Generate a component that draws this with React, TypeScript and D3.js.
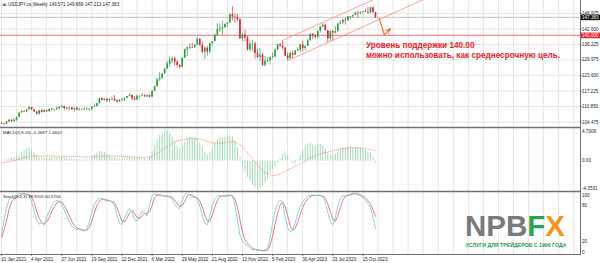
import React from 'react';
import * as d3 from 'd3';

const W = 600;
const H = 263;

// Weekly USDJPY candles, week of 10 Jan 2021 .. week of 19 Nov 2023
const firstOpen = 103.93;
const closes = [
  103.86, 103.77, 104.68, 105.38, 104.95, 105.42, 106.56, 108.36, 109.03, 108.86, 109.67, 110.62, 109.66, 108.78, 107.88, 109.29, 108.59, 109.35, 108.95, 109.85, 109.52, 109.66, 110.21, 110.74, 111.05, 110.14, 110.08, 110.55, 109.70, 110.25, 109.59, 109.79, 109.84, 109.71, 109.93, 109.94, 110.74, 111.05, 112.24, 114.21, 113.47, 113.95, 113.41, 113.89, 114.00, 113.38, 112.81, 113.44, 113.73, 114.39, 115.08,
  115.56, 114.19, 113.66, 115.26, 115.26, 115.43, 115.01, 115.56, 114.84, 117.29, 119.18, 122.04, 122.53, 124.33, 126.42, 128.48, 129.83, 130.58, 129.25, 127.87, 127.12, 130.85, 134.38, 135.00, 135.22, 135.21, 136.09, 138.56, 136.11, 133.27, 134.94, 133.43, 136.92, 137.66, 140.23, 142.58, 142.93, 143.35, 144.74, 145.30, 148.70, 147.69, 147.48, 146.62, 138.79, 140.38, 139.07, 134.30, 136.57, 136.69, 132.81, 131.11,
  132.07, 127.88, 129.59, 129.89, 131.19, 131.39, 134.15, 136.36, 135.85, 135.02, 131.73, 130.70, 132.79, 132.16, 133.77, 134.21, 136.27, 134.85, 135.70, 137.97, 140.57, 139.92, 139.38, 141.81, 143.70, 144.31, 142.09, 138.80, 141.80, 141.17, 141.79, 144.90, 145.39, 146.43, 146.20, 147.82, 147.85, 148.37, 149.36, 149.32, 149.57, 149.86, 149.66, 149.39, 151.52, 149.57, 147.383,
];
const highs = [
  104.40, 104.09, 104.94, 105.77, 105.63, 106.22, 106.69, 108.64, 109.23, 109.36, 109.85, 110.97, 110.68, 109.84, 108.95, 109.34, 109.68, 109.79, 109.45, 110.20, 110.33, 109.81, 110.82, 110.98, 111.66, 111.10, 110.70, 110.59, 110.59, 110.37, 110.80, 110.25, 110.28, 110.42, 110.45, 110.16, 110.79, 112.08, 112.25, 114.47, 114.70, 114.32, 114.44, 114.19, 114.97, 115.52, 113.95, 113.95, 114.25, 114.52, 115.19,
  116.35, 115.69, 115.06, 115.68, 115.43, 116.34, 116.01, 115.76, 115.81, 117.36, 119.41, 122.44, 125.09, 124.69, 126.68, 129.40, 131.25, 131.34, 131.35, 129.77, 128.09, 130.98, 134.56, 135.60, 136.71, 137.00, 136.58, 139.39, 138.88, 137.46, 135.58, 135.58, 137.00, 137.71, 140.80, 144.99, 144.96, 145.90, 144.86, 145.43, 148.86, 151.94, 149.10, 148.85, 147.14, 140.79, 142.25, 139.90, 137.86, 138.18, 137.47, 134.50,
  134.77, 132.87, 131.58, 131.11, 131.20, 132.90, 134.77, 136.49, 137.10, 137.91, 135.12, 133.00, 133.55, 133.76, 134.00, 135.13, 136.56, 137.77, 135.77, 138.75, 140.93, 140.93, 140.47, 141.90, 143.87, 145.07, 144.91, 142.26, 141.95, 142.11, 143.89, 145.00, 146.41, 146.64, 147.37, 147.87, 147.95, 148.46, 149.71, 150.16, 149.83, 150.08, 150.77, 151.72, 151.59, 151.91, 149.669,
];
const lows = [
  103.52, 103.33, 103.44, 104.55, 104.41, 104.59, 104.92, 106.50, 108.34, 108.60, 108.41, 109.62, 109.37, 108.61, 107.48, 107.48, 108.34, 108.34, 108.56, 108.57, 109.32, 109.19, 109.63, 109.71, 110.41, 109.53, 109.73, 109.07, 109.35, 108.72, 109.25, 109.12, 109.59, 109.59, 109.59, 109.11, 109.11, 110.70, 110.83, 112.09, 113.41, 113.26, 112.72, 112.73, 113.58, 113.05, 112.53, 112.56, 113.14, 113.13, 114.28,
  115.04, 113.48, 113.46, 113.47, 114.16, 114.96, 114.78, 114.40, 114.65, 114.71, 117.24, 119.07, 121.28, 122.25, 124.24, 126.35, 126.95, 128.62, 127.52, 126.94, 126.36, 126.86, 130.72, 131.49, 134.26, 134.74, 134.77, 136.06, 135.57, 132.51, 130.39, 131.73, 132.56, 135.81, 137.58, 140.22, 141.43, 140.35, 143.32, 143.52, 145.27, 146.22, 145.10, 145.68, 138.49, 137.67, 137.50, 133.62, 133.64, 133.63, 130.58, 130.77,
  129.51, 127.46, 127.22, 129.03, 128.08, 130.48, 130.98, 133.87, 135.26, 134.11, 131.57, 129.64, 130.40, 130.63, 131.75, 133.63, 133.09, 133.50, 133.74, 135.68, 137.92, 138.43, 138.76, 138.76, 141.11, 143.20, 142.06, 137.24, 137.70, 138.07, 140.69, 141.53, 144.44, 144.54, 144.44, 146.14, 146.56, 147.31, 148.31, 147.31, 148.57, 149.22, 149.54, 148.90, 149.21, 149.20, 147.213,
];

const macdHist = [
  0.1, 0.15, 0.2, 0.3, 0.45, 0.55, 0.65, 0.8, 1.2, 1.6, 1.8, 1.9, 1.7, 1.2, 0.8, 0.5, 0.45, 0.35, 0.4, 0.45,
  0.5, 0.5, 0.55, 0.6, 0.55, 0.5, 0.45, 0.35, 0.3, 0.25, 0.2, 0.2, 0.15, 0.15, 0.2, 0.3, 0.6, 0.9, 1.2, 1.4,
  1.4, 1.3, 1.0, 0.8, 0.6, 0.5, 0.4, 0.3, 0.3, 0.4, 0.5, 0.6, 0.5, 0.4, 0.35, 0.4, 0.4, 0.35, 0.3, 0.7,
  1.4, 2.3, 3.2, 3.8, 4.2, 4.6, 4.5, 4.1, 3.6, 2.9, 2.2, 1.8, 2.2, 2.8, 3.3, 3.5, 3.4, 3.5, 3.3, 2.7,
  2.0, 1.3, 0.9, 1.2, 1.9, 2.6, 3.2, 3.5, 3.4, 3.6, 3.8, 3.7, 3.6, 3.0, 2.0, 0.6, -0.8, -1.6, -2.4, -3.1,
  -3.6, -4.0, -4.3, -4.1, -3.7, -3.2, -2.6, -1.9, -1.3, -0.8, -0.3, 0.4, 1.0, 1.4, 0.9, 0.2, -0.3, -0.4, 0.2, 0.8,
  1.5, 2.1, 2.5, 2.6, 2.4, 2.2, 2.4, 2.5, 2.3, 1.8, 1.2, 0.9, 0.8, 1.1, 1.5, 1.9, 2.0, 2.0, 2.1, 2.1,
  2.0, 2.1, 2.0, 1.9, 1.8, 1.6, 1.3, 1.2, 0.6, -0.27,
];
const macdSignal = [
  -0.35, -0.28, -0.2, -0.12, -0.05, 0.0, 0.1, 0.2, 0.3, 0.42, 0.55, 0.6, 0.65, 0.68, 0.7, 0.7, 0.7, 0.7, 0.7, 0.7,
  0.7, 0.68, 0.66, 0.65, 0.64, 0.63, 0.62, 0.61, 0.6, 0.6, 0.6, 0.58, 0.56, 0.55, 0.55, 0.55, 0.56, 0.58, 0.6, 0.63,
  0.66, 0.68, 0.7, 0.7, 0.7, 0.7, 0.68, 0.66, 0.64, 0.62, 0.6, 0.58, 0.56, 0.54, 0.52, 0.5, 0.5, 0.5, 0.5, 0.55,
  0.6, 0.8, 1.05, 1.3, 1.55, 1.8, 2.1, 2.35, 2.6, 2.75, 2.9, 3.0, 3.1, 3.15, 3.2, 3.3, 3.3, 3.28, 3.25, 3.2,
  3.1, 3.0, 2.85, 2.75, 2.65, 2.6, 2.6, 2.62, 2.64, 2.66, 2.7, 2.75, 2.8, 2.8, 2.6, 2.3, 2.0, 1.6, 1.2, 0.75,
  0.3, -0.2, -0.65, -1.1, -1.5, -1.75, -1.95, -2.1, -2.15, -2.2, -2.1, -1.95, -1.8, -1.6, -1.4, -1.2, -1.05, -0.85, -0.7, -0.5,
  -0.3, -0.05, 0.2, 0.4, 0.6, 0.75, 0.9, 1.0, 1.1, 1.2, 1.3, 1.4, 1.5, 1.55, 1.65, 1.72, 1.8, 1.82, 1.85, 1.88,
  1.9, 1.9, 1.9, 1.9, 1.85, 1.8, 1.72, 1.64, 1.55, 1.46,
];
const stochK = [
  30, 55, 75, 88, 92, 90, 95, 100, 98, 99, 97, 96, 85, 70, 55, 48, 50, 47, 60, 70,
  78, 84, 88, 86, 80, 72, 62, 52, 45, 41, 39, 40, 38, 36, 40, 52, 68, 80, 88, 91,
  91, 88, 86, 88, 85, 80, 62, 50, 47, 58, 68, 74, 70, 55, 53, 62, 70, 66, 62, 80,
  95, 100, 97, 95, 96, 94, 95, 93, 90, 82, 76, 74, 88, 97, 100, 96, 92, 93, 90, 78,
  62, 50, 47, 62, 80, 90, 95, 96, 94, 95, 97, 96, 95, 80, 55, 30, 20, 15, 12, 8,
  5, 6, 4, 5, 3, 5, 8, 25, 50, 70, 82, 88, 85, 60, 42, 35, 38, 50, 65, 77,
  85, 90, 95, 96, 97, 95, 96, 96, 94, 85, 68, 52, 47, 60, 78, 90, 96, 95, 97, 98,
  100, 99, 97, 95, 92, 88, 82, 75, 60, 39.9,
];
const stochD = [
  25, 38, 53, 73, 85, 90, 92, 95, 98, 99, 98, 97, 93, 84, 70, 58, 51, 48, 52, 59,
  69, 77, 83, 86, 85, 79, 71, 62, 53, 46, 42, 40, 39, 38, 38, 43, 53, 67, 79, 86,
  90, 90, 88, 87, 86, 84, 76, 64, 53, 52, 58, 67, 71, 66, 59, 57, 62, 66, 66, 69,
  79, 92, 97, 97, 96, 95, 95, 94, 93, 88, 83, 77, 79, 86, 95, 98, 96, 94, 92, 87,
  77, 63, 53, 53, 63, 77, 88, 94, 95, 95, 95, 96, 96, 90, 77, 55, 35, 22, 16, 12,
  8, 6, 5, 5, 4, 4, 5, 13, 28, 48, 67, 80, 85, 78, 62, 46, 38, 41, 51, 64,
  76, 84, 90, 94, 96, 96, 96, 96, 95, 92, 82, 68, 56, 53, 62, 76, 88, 94, 96, 97,
  98, 99, 99, 97, 95, 92, 87, 82, 72, 60.6,
];

const dateLabels = [
  '10 Jan 2021', '4 Apr 2021', '27 Jun 2021', '19 Sep 2021', '12 Dec 2021', '6 Mar 2022', '29 May 2022',
  '21 Aug 2022', '13 Nov 2022', '5 Feb 2023', '30 Apr 2023', '23 Jul 2023', '15 Oct 2023',
];
const priceTicks = [148.975, 142.6, 136.225, 129.975, 123.6, 117.225, 110.85, 104.475];
const macdTickLabels = ['4.7009', '0.00', '-4.3531'];
const macdTickValues = [4.7009, 0, -4.3531];
const stochTicks = [100, 80, 20, 0];
const supportLevel = 140.0;
const lastPrice = 147.383;
// channel anchors: [bar index, price]
const channelUpper = [[112, 137.91], [140, 150.87]];
const channelLower = [[114, 129.64], [140, 141.68]];
const arrowPts = [[150.5, 147.0], [152.5, 140.3], [154.8, 142.6]];

const FONT = '"Liberation Sans", Arial, sans-serif';

export default function App() {
  const right = 580;
  const x = d3.scaleLinear().domain([0, 149]).range([1.5, 1.5 + 149 * 2.51]);
  const yP = d3.scaleLinear().domain([104.475, 148.975]).range([122, 13.5]);
  const yM = d3.scaleLinear().domain([-4.3531, 4.7009]).range([190, 129]);
  const yS = d3.scaleLinear().domain([0, 100]).range([253, 193]);
  const opens = closes.map((c, i) => (i === 0 ? firstOpen : closes[i - 1]));
  const gridIdx = d3.range(0, 232, 6);

  const ray = (pts: number[][]) => {
    const [a, b] = pts;
    const x1 = x(a[0]), y1 = yP(a[1]);
    const x2 = x(b[0]), y2 = yP(b[1]);
    const k = (y2 - y1) / (x2 - x1);
    const xe = right;
    return { x1, y1, x2: xe, y2: y1 + k * (xe - x1) };
  };
  const up = ray(channelUpper);
  const lo = ray(channelLower);

  const sigLine = d3.line<number>().x((_, i) => x(i)).y((d) => yM(d))(macdSignal) || '';
  const kLine = d3.line<number>().x((_, i) => x(i)).y((d) => yS(d))(stochK) || '';
  const dLine = d3.line<number>().x((_, i) => x(i)).y((d) => yS(d))(stochD) || '';
  const arrowPath = d3.line<number[]>().x((d) => x(d[0])).y((d) => yP(d[1]))(arrowPts) || '';

  const axisFs = 4.6;
  const grid = '#dedede';
  const border = '#707070';

  return (
    <svg width={W} height={H} style={{ position: 'absolute', left: 0, top: 0, background: '#fff' }} fontFamily={FONT}>
      <defs>
        <clipPath id="main"><rect x={0} y={0} width={right} height={127} /></clipPath>
        <marker id="ah" viewBox="0 0 10 10" refX="8" refY="5" markerWidth="5" markerHeight="5" orient="auto">
          <path d="M0,1 L9,5 L0,9" fill="none" stroke="#f0602a" strokeWidth="1.6" />
        </marker>
      </defs>
      <rect x={0} y={0} width={W} height={H} fill="#fff" />
      {/* vertical grid */}
      {gridIdx.map((i) => (
        <line key={'vg' + i} x1={x(i)} x2={x(i)} y1={0} y2={254} stroke={grid} strokeWidth={0.8} />
      ))}
      {/* price grid */}
      {priceTicks.map((p) => (
        <line key={'hg' + p} x1={0} x2={right} y1={yP(p)} y2={yP(p)} stroke={grid} strokeWidth={0.8} />
      ))}
      {/* bid line */}
      <line x1={0} x2={right} y1={yP(lastPrice)} y2={yP(lastPrice)} stroke="#b4b4b4" strokeWidth={0.8} />
      {/* support line */}
      <line x1={0} x2={right} y1={yP(supportLevel)} y2={yP(supportLevel)} stroke="#f28a8a" strokeWidth={1.2} />

      {/* candles */}
      <g>
        {closes.map((c, i) => {
          const o = opens[i];
          const bull = c >= o;
          const col = bull ? '#2f9a44' : '#cc2a36';
          const top = yP(Math.max(o, c));
          const bot = yP(Math.min(o, c));
          return (
            <g key={'c' + i}>
              <line x1={x(i)} x2={x(i)} y1={yP(highs[i])} y2={yP(lows[i])} stroke={col} strokeWidth={0.7} />
              <rect x={x(i) - 0.8} y={top} width={1.6} height={Math.max(0.6, bot - top)} fill={col} />
            </g>
          );
        })}
      </g>

      {/* channel */}
      <g clipPath="url(#main)">
        <line x1={up.x1} y1={up.y1} x2={up.x2} y2={up.y2} stroke="#f29a8a" strokeWidth={0.9} />
        <line x1={lo.x1} y1={lo.y1} x2={lo.x2} y2={lo.y2} stroke="#f29a8a" strokeWidth={0.9} />
      </g>
      {/* arrow */}
      <path d={arrowPath} fill="none" stroke="#f0602a" strokeWidth={1.1} markerEnd="url(#ah)" />

      {/* annotation */}
      <text x={366} y={47.5} fill="#e3202a" fontSize={8.2} fontWeight="bold">Уровень поддержки 140.00</text>
      <text x={366} y={57.5} fill="#e3202a" fontSize={8.2} fontWeight="bold">можно использовать, как среднесрочную цель.</text>

      {/* header */}
      <path d="M2,6 L4.5,2.5 L7,6 Z" fill="#6a8a6a" />
      <text x={8} y={6.3} fontSize={4.6} fill="#222">USDJPY.cs,Weekly  149.571 149.669 147.213 147.383</text>

      {/* MACD */}
      {macdHist.map((v, i) => (
        <line key={'h' + i} x1={x(i)} x2={x(i)} y1={yM(0)} y2={yM(v)} stroke="#96d6ac" strokeWidth={0.9} />
      ))}
      <path d={sigLine} fill="none" stroke="#e66a6a" strokeWidth={0.7} strokeDasharray="1.2,0.8" />
      <text x={3} y={133.6} fontSize={4.4} fill="#222">MACD(5,9,16) -0.2697 1.4602</text>

      {/* Stochastic */}
      <path d={dLine} fill="none" stroke="#e05a5a" strokeWidth={0.8} />
      <path d={kLine} fill="none" stroke="#6cc8d4" strokeWidth={0.8} />
      <text x={3} y={198} fontSize={4.4} fill="#222">Stoch(5,3,3) 39.9116 60.5704</text>

      {/* panel borders */}
      <line x1={0} x2={right} y1={127.5} y2={127.5} stroke={border} strokeWidth={1.3} />
      <line x1={0} x2={right} y1={191.5} y2={191.5} stroke={border} strokeWidth={1.3} />
      <line x1={0} x2={right} y1={254.5} y2={254.5} stroke={border} strokeWidth={1} />
      <line x1={right + 0.5} x2={right + 0.5} y1={0} y2={255} stroke={border} strokeWidth={1} />

      {/* right axis main */}
      {priceTicks.map((p) => (
        <g key={'pt' + p}>
          <line x1={right} x2={right + 2} y1={yP(p)} y2={yP(p)} stroke="#444" strokeWidth={0.6} />
          <text x={582} y={yP(p) + 1.6} fontSize={axisFs} fill="#222">{p.toFixed(3)}</text>
        </g>
      ))}
      <rect x={581} y={yP(lastPrice) - 2.8} width={19} height={5.6} fill="#111" />
      <text x={582} y={yP(lastPrice) + 1.6} fontSize={axisFs} fill="#fff">{lastPrice.toFixed(3)}</text>
      <rect x={581} y={yP(supportLevel) - 2.8} width={19} height={5.6} fill="#e8202a" />
      <text x={582} y={yP(supportLevel) + 1.6} fontSize={axisFs} fill="#fff">{supportLevel.toFixed(3)}</text>

      {/* right axis macd */}
      {macdTickValues.map((v, i) => (
        <text key={'mt' + i} x={582} y={Math.min(189.5, Math.max(132.5, yM(v) + 1.6))} fontSize={axisFs} fill="#222">{macdTickLabels[i]}</text>
      ))}
      {/* right axis stoch */}
      {stochTicks.map((v) => (
        <text key={'st' + v} x={582} y={Math.min(254, Math.max(196.5, yS(v) + 1.6))} fontSize={axisFs} fill="#222">{v}</text>
      ))}

      {/* date axis */}
      {dateLabels.map((d, k) => (
        <g key={'d' + k}>
          <line x1={x(k * 12)} x2={x(k * 12)} y1={254} y2={256} stroke="#444" strokeWidth={0.6} />
          <text x={x(k * 12) - 0.5} y={260.5} fontSize={axisFs} fill="#222">{d}</text>
        </g>
      ))}

      {/* logo */}
      <text x={465} y={235.5} fontSize={29.5} fontWeight="bold" fill="#7a7a7a">NPB<tspan fill="#2ea44f">F</tspan><tspan fill="#f7941d">X</tspan></text>
      <text x={465.5} y={246.8} fontSize={5.6} fontWeight="bold" fill="#1f9a4e" textLength={101} lengthAdjust="spacingAndGlyphs">УСЛУГИ ДЛЯ ТРЕЙДЕРОВ С 1996 ГОДА</text>
    </svg>
  );
}
